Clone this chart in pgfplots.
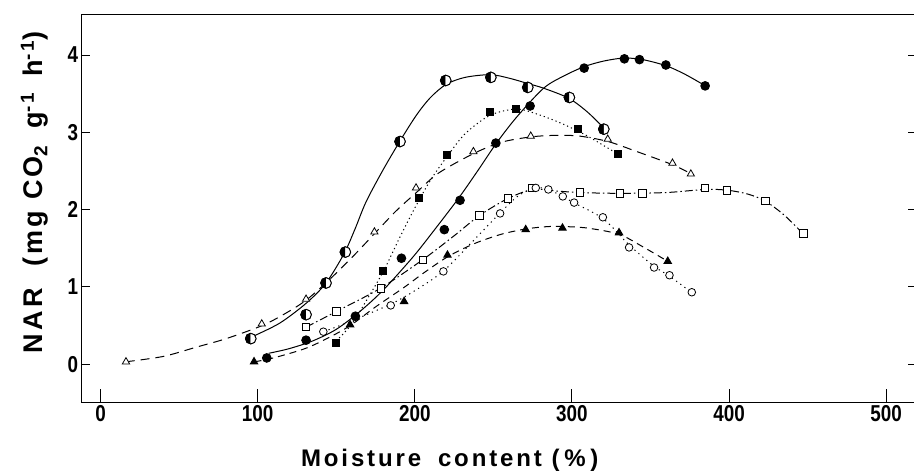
\documentclass[border=0pt]{standalone}
\usepackage{fontspec}
\setmainfont{Liberation Sans}
\newfontfamily\tickfont[FakeStretch=0.82]{Liberation Sans}
\newfontfamily\labfont[LetterSpace=12]{Liberation Sans}
\usepackage{pgfplots}
\pgfplotsset{compat=1.18}
\usepackage{pgfplotstable}

% half-filled circles, solid curve
\pgfplotstableread{
x y
95.6 0.33
130.8 0.64
143.5 1.05
155.8 1.45
190.6 2.88
219.7 3.67
248.4 3.71
271.9 3.58
298.4 3.45
320.3 3.04
}\halfpts

\begin{document}
\begin{tikzpicture}
\path[use as bounding box] (-82pt,-70pt) rectangle (832pt,402pt);
\begin{axis}[
  at={(0pt,0pt)}, anchor=south west,
  scale only axis, width=834pt, height=388pt,
  xmin=-11.8, xmax=519, ymin=-0.49, ymax=4.53,
  xtick={0,100,...,500}, ytick={0,1,2,3,4},
  tick align=inside, xtick pos=bottom, ytick pos=both, yticklabel pos=left,
  xtick style={/pgfplots/major tick length=13pt},
  ytick style={/pgfplots/major tick length=8pt},
  every tick/.append style={black, line width=0.9pt},
  axis line style={line width=1pt},
  /pgf/number format/assume math mode=true,
  ticklabel style={font=\tickfont\bfseries\fontsize{23}{23}\selectfont},
  xlabel={Moisture\hspace{0.7em}content\hspace{0.4em}(\hspace{0.2em}\%\hspace{0.2em})},
  ylabel={NAR\hspace{0.8em}(mg\hspace{0.4em}CO\textsubscript{2}\hspace{0.6em}g\textsuperscript{-1}\hspace{0.6em}h\textsuperscript{-1})},
  label style={font=\labfont\bfseries\fontsize{24}{24}\selectfont},
  xlabel style={at={(axis description cs:0.441,-0.165)}, anchor=base},
  ylabel style={at={(axis description cs:-0.047,0.54)}, anchor=base,
    font=\labfont\bfseries\fontsize{27}{27}\selectfont},
  line width=1pt,
]
% ---- fitted curves ----
\addplot[black, smooth] coordinates {
 (96,0.35) (114,0.53) (131,0.79) (143.5,1.05) (155,1.43) (162,1.75) (169,2.1)
 (180,2.52) (191,2.9) (201,3.22) (210,3.45) (220,3.62) (232,3.71) (248,3.745)
 (260,3.70) (272,3.63) (282,3.57) (298,3.44) (310,3.26) (321,3.04)};
\addplot[black, smooth] coordinates {
 (107,0.14) (120,0.2) (135,0.3) (150,0.45) (165,0.68) (180,0.96) (199,1.39)
 (213,1.75) (228,2.15) (240,2.5) (252,2.86) (265,3.2) (282,3.57) (295,3.73)
 (308,3.85) (320,3.92) (333,3.96) (345,3.94) (360,3.86) (372,3.75) (385,3.6)};
\addplot[black, smooth, dash pattern=on 1.2pt off 3pt] coordinates {
 (150,0.3) (160,0.52) (170,0.85) (180,1.2) (190,1.62) (200,2.02) (210,2.38)
 (220,2.67) (232,2.98) (248,3.22) (265,3.3) (280,3.22) (295,3.1) (310,2.95) (329,2.72)};
\addplot[black, smooth, dash pattern=on 9pt off 6pt] coordinates {
 (16,0.03) (40,0.1) (61,0.22) (80,0.33) (103,0.5) (118,0.66) (131,0.83) (145,1.08)
 (160,1.38) (174,1.68) (188,1.98) (201,2.22) (215,2.47) (237,2.72) (255,2.87)
 (274,2.94) (290,2.96) (305,2.95) (323,2.88) (340,2.76) (364,2.58) (376,2.46)};
\addplot[black, smooth, dash pattern=on 8pt off 3pt on 1.5pt off 3pt] coordinates {
 (131,0.48) (150,0.68) (178,0.98) (205,1.35) (225,1.66) (241,1.92) (259,2.14)
 (275,2.26) (290,2.24) (305,2.22) (330,2.21) (360,2.22) (385,2.26) (399,2.25)
 (412,2.2) (423,2.11) (435,1.93) (447,1.69)};
\addplot[black, smooth, dash pattern=on 1.2pt off 4pt] coordinates {
 (142,0.42) (160,0.56) (185,0.78) (200,0.95) (218,1.2) (236,1.57) (254,1.95)
 (266,2.18) (277,2.28) (285,2.26) (294,2.17) (301,2.09) (320,1.88) (336,1.55)
 (352,1.27) (362,1.14) (376,0.93)};
\addplot[black, smooth, dash pattern=on 7pt off 5pt] coordinates {
 (98,0.03) (110,0.08) (130,0.2) (145,0.34) (159,0.5) (175,0.74) (193,0.99)
 (205,1.17) (221,1.39) (238,1.56) (255,1.68) (271,1.75) (285,1.78) (295,1.78)
 (310,1.76) (330,1.68) (345,1.52) (361,1.33)};
% ---- measured points ----
\addplot[only marks, mark=*, mark size=5.3pt, mark options={fill=white, line width=0.9pt}] table {\halfpts};
\addplot[only marks, mark=halfcircle*, mark size=5.3pt, mark options={fill=black, rotate=90, line width=0.9pt}] table {\halfpts};
\addplot[only marks, mark=*, mark size=4.3pt, mark options={fill=black}] coordinates {
 (105.8,0.08) (130.8,0.31) (162.2,0.62) (191.5,1.37) (218.8,1.74) (228.8,2.12)
 (251.6,2.86) (273.4,3.34) (307.8,3.83) (333.4,3.95) (343,3.94) (359.8,3.87) (384.8,3.60)};
\addplot[only marks, mark=square*, mark size=3.6pt, mark options={fill=black}] coordinates {
 (149.9,0.27) (179.6,1.21) (202.7,2.15) (220.4,2.71) (247.9,3.26) (264.5,3.30)
 (303.7,3.04) (329.2,2.72)};
\addplot[only marks, mark=triangle*, mark size=4.2pt, mark options={fill=white, line width=0.8pt}] coordinates {
 (16.2,0.03) (102.6,0.52) (130.8,0.84) (174.3,1.71) (200.8,2.28) (237.3,2.75)
 (273.8,2.95) (322.8,2.91) (364,2.60) (375.7,2.46)};
\addplot[only marks, mark=square*, mark size=3.8pt, mark options={fill=white, line width=0.9pt}] coordinates {
 (130.8,0.48) (150.3,0.68) (178.4,0.98) (205.1,1.35) (241.1,1.92) (259.2,2.14)
 (274.5,2.28) (305.2,2.22) (330.7,2.21) (344.9,2.21) (384.8,2.28) (398.6,2.25)
 (423.2,2.11) (447.4,1.69)};
\addplot[only marks, mark=*, mark size=3.8pt, mark options={fill=white, line width=0.8pt}] coordinates {
 (141.8,0.42) (184.7,0.76) (218.2,1.20) (254.3,1.95) (277,2.28) (285,2.26)
 (294.2,2.17) (301.4,2.09) (319.7,1.90) (336.4,1.51) (352.3,1.25) (362.1,1.15) (376.3,0.93)};
\addplot[only marks, mark=triangle*, mark size=4.2pt, mark options={fill=black}] coordinates {
 (97.7,0.03) (158.8,0.51) (193.2,0.81) (220.8,1.41) (270.6,1.74) (294,1.76)
 (330,1.70) (361,1.33)};
\end{axis}
\end{tikzpicture}
\end{document}
